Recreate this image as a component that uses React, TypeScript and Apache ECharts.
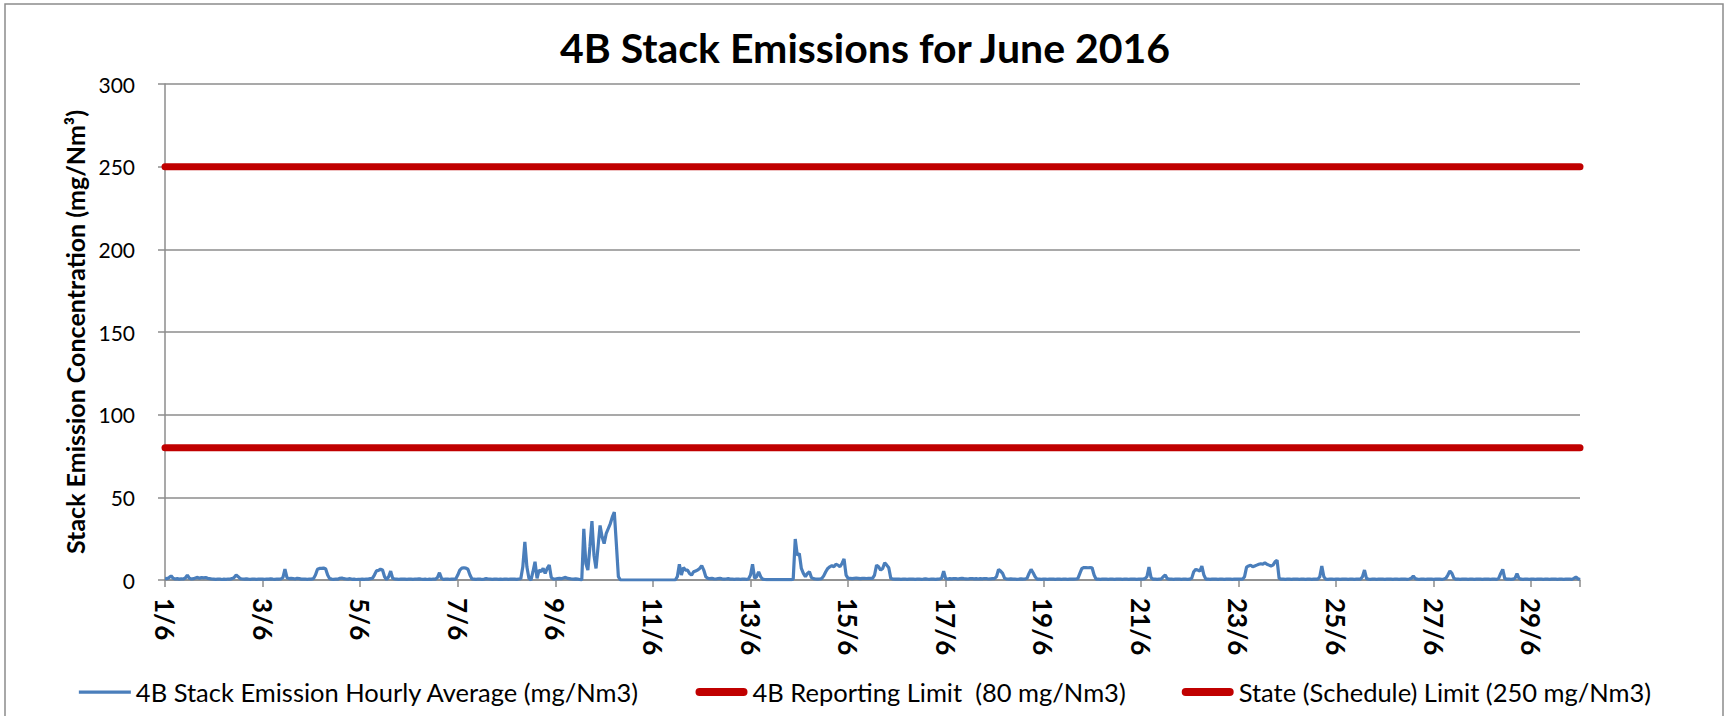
import React, { useEffect, useRef } from "react";
import * as echarts from "echarts";

const chartTitle = "4B Stack Emissions for June 2016";
const yAxisName = "Stack Emission Concentration (mg/Nm³)";
const seriesNames = [
  "4B Stack Emission Hourly Average (mg/Nm3)",
  "4B Reporting Limit  (80 mg/Nm3)",
  "State (Schedule) Limit (250 mg/Nm3)",
];
const reportingLimit = 80;
const stateLimit = 250;
const monthNumber = 6;
const yTicks = [0, 50, 100, 150, 200, 250, 300];

// Hourly averages (mg/Nm3), one row per day starting 1/6 00:00
const hourlyByDay: number[][] = [
  [1, 0.8, 1.5, 2.5, 1, 0.6, 0.8, 0.5, 0.7, 0.6, 1.2, 3, 1, 0.6, 0.8, 1.2, 1.6, 1, 1.5, 1.3, 1.5, 1, 0.8, 0.6],
  [0.5, 0.4, 0.6, 0.5, 0.3, 0.5, 0.4, 0.6, 0.5, 0.8, 1.5, 3, 2, 0.8, 0.6, 0.5, 0.7, 0.5, 0.4, 0.6, 0.5, 0.4, 0.5, 0.6],
  [0.5, 0.4, 0.6, 0.5, 0.7, 0.5, 0.4, 0.6, 0.5, 0.6, 1.5, 6.5, 1.5, 0.8, 1, 0.8, 0.6, 1, 0.8, 0.5, 0.6, 0.5, 0.4, 0.6],
  [0.5, 0.8, 3, 6.5, 7, 7, 7.2, 6.8, 3, 0.8, 0.5, 0.4, 0.6, 0.5, 1, 1.2, 0.8, 0.6, 0.5, 0.8, 0.4, 0.5, 0.3, 0.4],
  [0.4, 0.5, 0.4, 0.6, 0.5, 0.8, 1, 3, 5.5, 5.8, 6.5, 6, 2, 0.3, 2, 5.4, 1, 0.6, 0.5, 0.4, 0.5, 0.6, 0.5, 0.4],
  [0.6, 0.5, 0.4, 0.6, 0.5, 0.7, 0.5, 0.4, 0.5, 0.3, 0.5, 0.4, 0.6, 0.5, 1.5, 4.4, 1, 0.4, 0.5, 0.6, 0.4, 0.5, 0.5, 0.6],
  [3, 6, 7.2, 7.4, 7.2, 6.5, 3, 0.6, 0.5, 0.4, 0.6, 0.5, 0.3, 0.5, 0.8, 0.6, 0.5, 0.4, 0.5, 0.6, 0.4, 0.5, 0.4, 0.5],
  [0.5, 0.4, 0.6, 0.5, 0.5, 0.4, 0.6, 0.8, 8, 23, 8, 1, 0, 5, 11, 1, 6, 5, 7, 4, 7, 9, 1.5, 0.6],
  [0.6, 0.8, 1, 0.8, 1.2, 1.6, 1, 0.8, 0.6, 0.5, 0.7, 0.5, 0.3, 0, 31, 10, 6, 20, 35.6, 15, 7, 20, 33, 26],
  [22, 28, 31, 34, 38, 41, 22, 2, 0, 0, 0, 0, 0, 0, 0, 0, 0, 0, 0, 0, 0, 0, 0, 0],
  [0, 0, 0, 0, 0, 0, 0, 0, 0, 0, 0, 0, 2, 9.5, 3, 7.5, 6, 6, 4, 3, 5, 5.5, 6, 7],
  [8.7, 6, 2, 1, 0.8, 1, 0.7, 0.6, 0.8, 1, 0.7, 0.5, 0.6, 0.8, 0.5, 0.6, 0.4, 0.5, 0.6, 0.4, 0.5, 0.6, 0.4, 0.6],
  [3, 9.5, 1, 2, 5, 2, 0.5, 0.3, 0.2, 0.3, 0.2, 0.3, 0.2, 0.3, 0.2, 0.3, 0.2, 0.3, 0.2, 0.3, 0.2, 0.5, 24.8, 15],
  [16, 7, 4, 2, 4, 5, 1.4, 0.8, 0.6, 0.5, 0.6, 0.8, 2.5, 5, 7, 8, 8.7, 8, 9.5, 9, 8, 10, 12.7, 3],
  [1, 1, 0.8, 1, 1.2, 1, 0.8, 1, 1, 0.9, 1, 1, 1, 3, 9, 8, 6, 7, 10.4, 9, 7.4, 1, 0.6, 0.5],
  [0.5, 0.6, 0.4, 0.5, 0.6, 0.4, 0.5, 0.6, 0.5, 0.4, 0.5, 0.6, 0.4, 0.5, 0.7, 0.5, 0.4, 0.6, 0.5, 0.4, 0.5, 0.6, 1, 5.4],
  [0.8, 0.6, 0.8, 0.7, 0.9, 0.8, 0.6, 0.8, 1, 0.8, 0.7, 0.6, 0.8, 0.9, 0.7, 0.8, 0.6, 0.8, 0.7, 0.9, 0.8, 0.6, 0.7, 0.8],
  [0.8, 2, 6.4, 5.4, 4, 1, 0.6, 0.5, 0.7, 0.5, 0.6, 0.4, 0.5, 0.7, 0.5, 0.6, 1, 4, 6.4, 4.4, 2, 0.5, 0.6, 0.4],
  [0.5, 0.6, 0.4, 0.5, 0.6, 0.5, 0.4, 0.6, 0.5, 0.4, 0.6, 0.5, 0.4, 0.5, 0.6, 0.5, 0.6, 0.8, 4, 7, 7.5, 7.5, 7.4, 7.5],
  [7.4, 3, 0.5, 0.6, 0.4, 0.5, 0.6, 0.5, 0.4, 0.6, 0.5, 0.4, 0.5, 0.6, 0.5, 0.4, 0.6, 0.5, 0.4, 0.5, 0.6, 0.5, 0.4, 0.5],
  [0.5, 0.6, 0.8, 2, 7.8, 1.5, 0.5, 0.6, 0.4, 0.5, 0.6, 2, 3, 0.8, 0.5, 0.6, 0.4, 0.5, 0.6, 0.5, 0.4, 0.6, 0.5, 0.4],
  [0.5, 1, 5, 6.4, 6, 5.4, 8.4, 3, 0.5, 0.6, 0.4, 0.5, 0.6, 0.5, 0.4, 0.6, 0.5, 0.4, 0.5, 0.6, 0.5, 0.4, 0.6, 0.5],
  [0.5, 0.6, 0.5, 2, 7.8, 8.5, 9, 8, 8.5, 9, 9.5, 9.8, 9.5, 10.4, 9.5, 9, 8.5, 9, 11, 12, 1, 0.5, 0.6, 0.4],
  [0.5, 0.6, 0.4, 0.5, 0.6, 0.5, 0.4, 0.6, 0.5, 0.4, 0.5, 0.6, 0.4, 0.5, 0.6, 0.5, 2, 8.4, 2, 0.5, 0.4, 0.6, 0.5, 0.4],
  [0.5, 0.6, 0.4, 0.5, 0.6, 0.5, 0.4, 0.6, 0.5, 0.4, 0.5, 0.6, 0.5, 2, 6, 0.8, 0.5, 0.4, 0.6, 0.5, 0.4, 0.5, 0.6, 0.5],
  [0.4, 0.5, 0.6, 0.5, 0.4, 0.6, 0.5, 0.4, 0.5, 0.6, 0.5, 0.4, 0.6, 1, 2.4, 0.8, 0.5, 0.4, 0.6, 0.5, 0.4, 0.5, 0.6, 0.5],
  [0.4, 0.5, 0.6, 0.5, 0.4, 0.6, 1, 3, 5.4, 4, 1, 0.5, 0.6, 0.4, 0.5, 0.6, 0.5, 0.4, 0.6, 0.5, 0.4, 0.5, 0.6, 0.5],
  [0.4, 0.5, 0.6, 0.5, 0.4, 0.6, 0.5, 0.4, 1, 4, 6.4, 0.8, 0.5, 0.6, 0.4, 0.5, 1, 3.8, 1, 0.5, 0.4, 0.6, 0.5, 0.4],
  [0.5, 0.6, 0.4, 0.5, 0.6, 0.5, 0.4, 0.6, 0.5, 0.4, 0.5, 0.6, 0.5, 0.4, 0.6, 0.5, 0.4, 0.5, 0.6, 0.5, 0.4, 1, 1.8, 0.8],
  [0.3],
];

const FONT = "Lato, 'Open Sans', sans-serif";
const BLUE = "#4a7ebb";
const RED = "#c00000";
const GRID_GRAY = "#8c8c8c";

const thinIcon = "path://M0,0 H48 V3 H0 Z";
const thickIcon = "path://M4,0 H48 A4,4 0 0 1 48,8 H4 A4,4 0 0 1 4,0 Z";

export default function App() {
  const ref = useRef<HTMLDivElement>(null);

  useEffect(() => {
    if (!ref.current) return;
    const chart = echarts.init(ref.current, null, { renderer: "svg" });
    const hourly = hourlyByDay.flat();
    const lastHour = hourly.length - 1;
    const blueData = hourly.map((v, i) => [i, v]);
    const limitLine = (v: number) => [
      [0, v],
      [lastHour, v],
    ];

    chart.setOption({
      animation: false,
      backgroundColor: "#ffffff",
      textStyle: { fontFamily: FONT },
      title: {
        text: chartTitle,
        left: "center",
        top: 22,
        textStyle: { fontFamily: FONT, fontSize: 41, fontWeight: "bold", color: "#000" },
      },
      grid: { left: 165, right: 150, top: 84, bottom: 136 },
      legend: {
        bottom: 6,
        left: "center",
        itemWidth: 52,
        itemHeight: 8,
        itemGap: 56,
        symbolKeepAspect: true,
        textStyle: { fontFamily: FONT, fontSize: 25.5, color: "#000" },
        data: [
          { name: seriesNames[0], icon: thinIcon, itemStyle: { color: BLUE } },
          { name: seriesNames[1], icon: thickIcon, itemStyle: { color: RED } },
          { name: seriesNames[2], icon: thickIcon, itemStyle: { color: RED } },
        ],
      },
      xAxis: {
        type: "value",
        min: 0,
        max: lastHour,
        interval: 48,
        axisLine: { show: true, lineStyle: { color: GRID_GRAY, width: 1.5 } },
        axisTick: { show: true, length: 7, lineStyle: { color: GRID_GRAY, width: 1.5 } },
        splitLine: { show: false },
        axisLabel: {
          rotate: -90,
          margin: 18,
          fontFamily: FONT,
          fontSize: 26,
          fontWeight: "bold",
          color: "#000",
          formatter: (v: number) => (v >= lastHour ? "" : `${v / 24 + 1}/${monthNumber}`),
        },
      },
      yAxis: {
        type: "value",
        min: yTicks[0],
        max: yTicks[yTicks.length - 1],
        interval: yTicks[1] - yTicks[0],
        name: yAxisName,
        nameLocation: "middle",
        nameRotate: 90,
        nameGap: 72,
        nameTextStyle: { fontFamily: FONT, fontSize: 25, fontWeight: "bold", color: "#000" },
        axisLine: { show: true, lineStyle: { color: GRID_GRAY, width: 1.5 } },
        axisTick: { show: true, length: 7, lineStyle: { color: GRID_GRAY, width: 1.5 } },
        splitLine: { show: true, lineStyle: { color: GRID_GRAY, width: 1.5 } },
        axisLabel: { margin: 30, fontFamily: FONT, fontSize: 21, color: "#000" },
      },
      graphic: [
        {
          type: "rect",
          shape: { x: 5, y: 4, width: 1718, height: 730 },
          style: { fill: "none", stroke: GRID_GRAY, lineWidth: 1.5 },
          silent: true,
          z: -1,
        },
      ],
      series: [
        {
          name: seriesNames[0],
          type: "line",
          data: blueData,
          symbol: "none",
          color: BLUE,
          lineStyle: { color: BLUE, width: 3.2 },
          z: 3,
        },
        {
          name: seriesNames[1],
          type: "line",
          data: limitLine(reportingLimit),
          symbol: "none",
          color: RED,
          lineStyle: { color: RED, width: 7, cap: "round" },
          z: 2,
        },
        {
          name: seriesNames[2],
          type: "line",
          data: limitLine(stateLimit),
          symbol: "none",
          color: RED,
          lineStyle: { color: RED, width: 7, cap: "round" },
          z: 2,
        },
      ],
    });
    return () => chart.dispose();
  }, []);

  return (
    <div
      ref={ref}
      style={{ position: "absolute", left: 0, top: 0, width: 1730, height: 716 }}
    />
  );
}
